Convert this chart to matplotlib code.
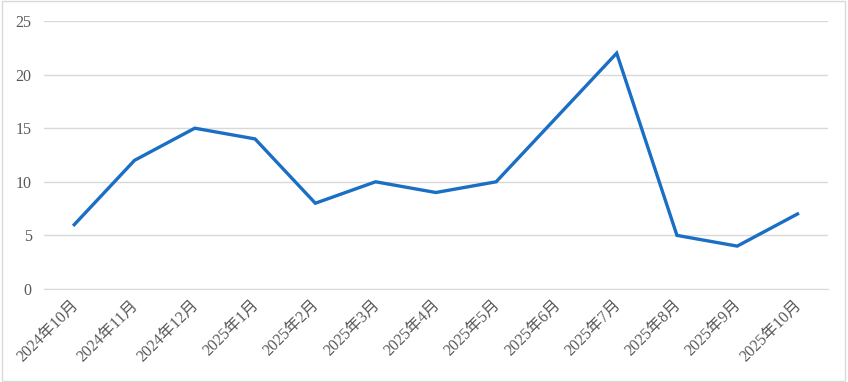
import matplotlib.pyplot as plt
from matplotlib.patches import Rectangle
import matplotlib.transforms as mtransforms

months = ['2024年10月', '2024年11月', '2024年12月', '2025年1月', '2025年2月',
          '2025年3月', '2025年4月', '2025年5月', '2025年6月', '2025年7月',
          '2025年8月', '2025年9月', '2025年10月']
values = [6, 12, 15, 14, 8, 10, 9, 10, 16, 22, 5, 4, 7]
yticks = [0, 5, 10, 15, 20, 25]

plt.rcParams['font.family'] = ['Liberation Serif', 'Noto Sans CJK SC']

fig = plt.figure(figsize=(8.48, 3.82), dpi=100)
ax = fig.add_axes([0.052, 0.2435, 0.924, 0.7015])

x = list(range(len(months)))
ax.plot(x, values, color='#1a6fc4', linewidth=2.4, solid_joinstyle='miter')

ax.set_xlim(-0.5, len(months) - 0.5)
ax.set_ylim(0, 25)
ax.set_yticks(yticks)
ax.set_xticks(x)
ax.set_xticklabels(months, rotation=45, ha='right', va='top', rotation_mode='anchor')
ax.grid(axis='y', color='#d9d9d9', linewidth=1)
ax.set_axisbelow(True)
for s in ['top', 'right', 'left']:
    ax.spines[s].set_visible(False)
ax.spines['bottom'].set_color('#d9d9d9')
ax.tick_params(axis='both', length=0, colors='#595959', labelsize=11.5)
ax.tick_params(axis='y', pad=9)
ax.tick_params(axis='x', pad=6)

# nudge x labels a little left
offset = mtransforms.ScaledTranslation(-4 / 100, 0, fig.dpi_scale_trans)
for lbl in ax.get_xticklabels():
    lbl.set_transform(lbl.get_transform() + offset)

fig.patches.append(Rectangle((0.002, 0.003), 0.995, 0.994, transform=fig.transFigure,
                             fill=False, edgecolor='#d9d9d9', linewidth=1))

fig.savefig('out.png', dpi=100)
